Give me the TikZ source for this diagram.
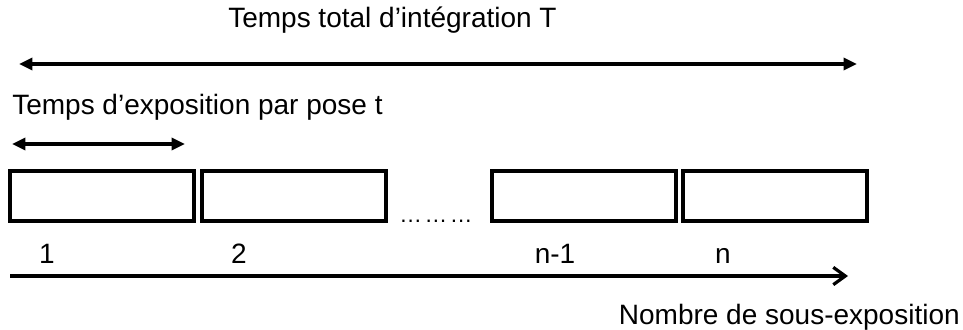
\documentclass[tikz,border=0pt]{standalone}
\usepackage{fontspec}
\setmainfont{Liberation Sans}
\usetikzlibrary{arrows.meta, positioning}

\begin{document}
\begin{tikzpicture}[
  x=0.75pt, y=-0.75pt,
  pose/.style={rectangle, draw, line width=3pt, minimum width=138pt,
               minimum height=37.5pt, inner sep=0pt},
  lbl/.style={font=\fontsize{21}{25}\selectfont, inner sep=0pt, anchor=base west},
  duree/.style={line width=2.4pt, {Triangle[length=10pt,width=9pt]}-{Triangle[length=10pt,width=9pt]}}
]
  \useasboundingbox (0,0) rectangle (963,329);

  % Total integration time
  \node[lbl] (ttot) at (228,27) {Temps total d’intégration T};
  \coordinate (tl) at (19,64);
  \coordinate (tr) at (857,64);
  \draw[duree] (tl) -- (tr);

  % Exposure time per frame
  \node[lbl] (tpose) at (12,114) {Temps d’exposition par pose t};
  \coordinate (pl) at (12,144);
  \coordinate (pr) at (185,144);
  \draw[duree] (pl) -- (pr);

  % Sub-exposures
  \node[pose] (p1) at (102,196) {};
  \node[pose] (p2) at (293.5,196) {};
  \node[pose] (pn1) at (583.5,196) {};
  \node[pose] (pn) at (774.5,196) {};
  \node[lbl, font=\fontsize{17}{20}\selectfont] (dots) at (399,222)
    {…\hspace{2pt}…\hspace{2pt}…};

  % Numbers
  \node[lbl, anchor=base] (n1) at (47,263) {1};
  \node[lbl, anchor=base] (n2) at (239,263) {2};
  \node[lbl, anchor=base] (nn1) at (555,263) {n-1};
  \node[lbl, anchor=base] (nn) at (723,263) {n};

  % Axis
  \coordinate (al) at (10,276);
  \coordinate (ar) at (848,276);
  \draw[line width=2.4pt, -{Straight Barb[length=9pt,width=13pt]}] (al) -- (ar);
  \node[lbl, anchor=base east] (axe) at (960,324) {Nombre de sous-exposition};
\end{tikzpicture}
\end{document}
